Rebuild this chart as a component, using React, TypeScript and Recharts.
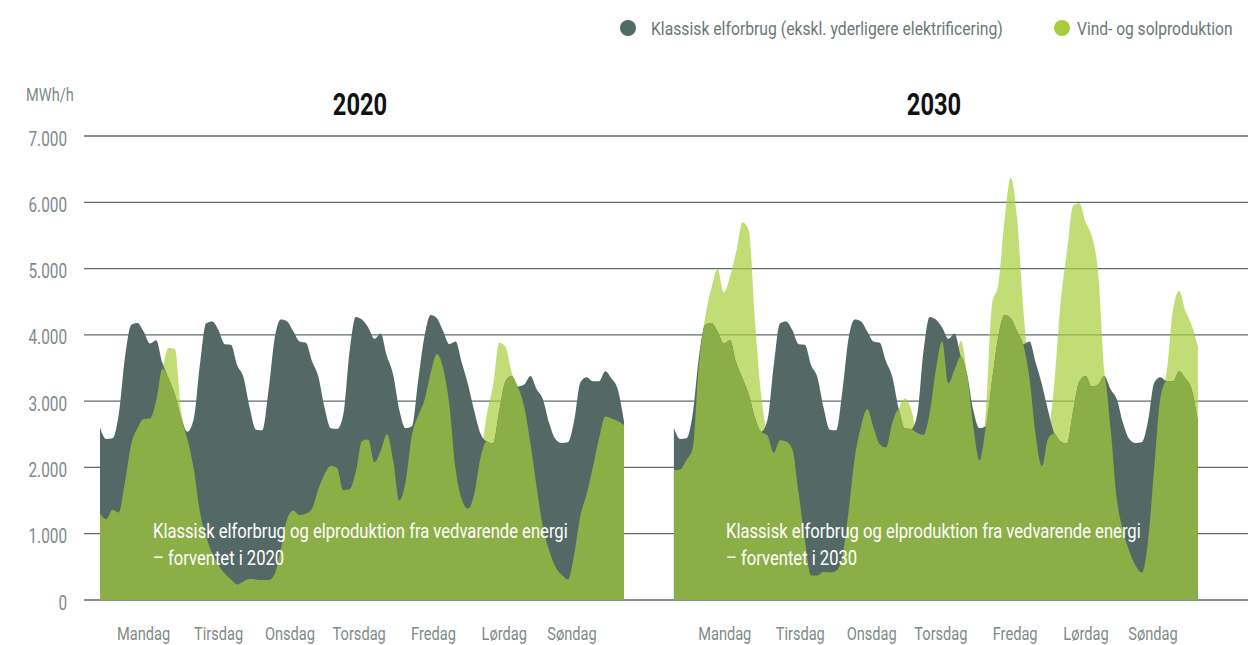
import { ComposedChart, Area, XAxis, YAxis, CartesianGrid } from "recharts";

// hourly week, sampled every 2 hours (85 points, Monday 00:00 to Sunday 24:00)
const consumption = [
  2600, 2430, 2440, 2800, 3660, 4150, 4180, 4050, 3870, 3920, 3580, 3340, 3100, 2750, 2540,
  2720, 3540, 4170, 4200, 4070, 3860, 3850, 3540, 3360, 2900, 2570, 2560, 3150, 3950, 4230,
  4200, 4050, 3900, 3880, 3600, 3370, 2900, 2590, 2580, 2800, 3750, 4270, 4230, 4110, 3940,
  4020, 3680, 3400, 2860, 2590, 2620, 3310, 3970, 4300, 4250, 4060, 3860, 3900, 3580, 3250,
  2850, 2510, 2390, 2360, 2850, 3300, 3380, 3220, 3250, 3380, 3180, 3030, 2670, 2430, 2370,
  2380, 2700, 3280, 3360, 3300, 3300, 3450, 3340, 3180, 2700,
];

const production2020 = [
  1300, 1220, 1360, 1320, 1780, 2350, 2590, 2730, 2740, 3000, 3490, 3800, 3790, 2860, 2430,
  2000, 1340, 960, 700, 520, 400, 310, 235, 280, 315, 310, 300, 300, 390, 770,
  1220, 1350, 1280, 1300, 1380, 1670, 1900, 2020, 1990, 1660, 1670, 1930, 2400, 2420, 2080,
  2250, 2500, 2110, 1500, 1790, 2490, 2780, 3010, 3420, 3710, 3500, 2950, 1980, 1520, 1380,
  1600, 2150, 2800, 3230, 3880, 3820, 3430, 3210, 2920, 2370, 1700, 1100, 750, 500, 380,
  310, 680, 1270, 1590, 2000, 2440, 2770, 2740, 2700, 2640,
];

const production2030 = [
  1960, 1970, 2110, 2290, 3550, 4260, 4700, 4990, 4640, 4880, 5260, 5700, 5580, 4200, 3080,
  2480, 2220, 2410, 2390, 2270, 1610, 905, 370, 370, 425, 415, 440, 660, 1340, 2150,
  2620, 2880, 2600, 2350, 2300, 2670, 2870, 3040, 2890, 2520, 2490, 2820, 3480, 3900, 3270,
  3480, 3910, 3420, 2620, 2110, 2850, 4470, 4760, 5730, 6370, 5780, 4400, 3350, 2480, 2020,
  2440, 3300, 4500, 5250, 5950, 5990, 5700, 5490, 4940, 3450, 2600, 1530, 1050, 740, 520,
  415, 880, 2000, 3060, 3450, 4375, 4660, 4360, 4150, 3820,
];

const days = ["Mandag", "Tirsdag", "Onsdag", "Torsdag", "Fredag", "Lørdag", "Søndag"];
// label positions (in hours) as they sit under each panel
const dayTicks2020 = [14.0, 38.0, 60.9, 83.1, 106.9, 129.6, 151.3];
const dayTicks2030 = [200.3, 224.5, 247.4, 269.6, 293.4, 316.1, 337.6];
const yTicks = [0, 1000, 2000, 3000, 4000, 5000, 6000, 7000];

const START_2030 = 184; // hour offset of the 2030 panel on the shared axis

const DARK = "#546966";
const LIGHT = "#a8cd3c";
const MID = "#8cae47";
const GREY = "#7d8b89";
const FONT = "Roboto, 'DejaVu Sans', sans-serif";

const rows = [
  ...consumption.map((c, i) => ({
    h: i * 2,
    cons2020: c,
    prod2020: production2020[i],
    both2020: Math.min(c, production2020[i]),
  })),
  ...consumption.map((c, i) => ({
    h: START_2030 + i * 2,
    cons2030: c,
    prod2030: production2030[i],
    both2030: Math.min(c, production2030[i]),
  })),
];

const fmtY = (v: number) => (v === 0 ? "0" : `${v / 1000}.000`);

// the source uses a condensed face, so Roboto is squeezed horizontally
function YTick(props: any) {
  const { x, y, payload } = props;
  return (
    <text
      transform={`translate(${x},${y + 9.5}) scale(0.73,1)`}
      textAnchor="end"
      fill={GREY}
      fontSize={21}
      fontFamily={FONT}
    >
      {fmtY(payload.value)}
    </text>
  );
}

function XTick(props: any) {
  const { x, index } = props;
  return (
    <text
      transform={`translate(${x},639.5) scale(0.79,1)`}
      textAnchor="middle"
      fill={GREY}
      fontSize={18.5}
      fontFamily={FONT}
    >
      {days[index % 7]}
    </text>
  );
}

function Cond({
  left,
  top,
  size,
  scale,
  color,
  lh,
  weight = 400,
  origin = "left",
  width,
  align = "left",
  children,
}: {
  left: number;
  top: number;
  size: number;
  scale: number;
  color: string;
  lh: number;
  weight?: number;
  origin?: string;
  width?: number;
  align?: "left" | "center";
  children: React.ReactNode;
}) {
  return (
    <div
      style={{
        position: "absolute",
        left,
        top,
        width,
        textAlign: align,
        fontSize: size,
        lineHeight: `${lh}px`,
        fontWeight: weight,
        color,
        whiteSpace: "nowrap",
        transform: `scaleX(${scale})`,
        transformOrigin: origin,
      }}
    >
      {children}
    </div>
  );
}

const dot = (left: number, color: string): React.CSSProperties => ({
  position: "absolute",
  left,
  top: 20,
  width: 16,
  height: 16,
  borderRadius: 8,
  background: color,
});

export default function App() {
  return (
    <div style={{ position: "absolute", left: 0, top: 0, width: 1256, height: 645, background: "#fff", fontFamily: FONT }}>
      <span style={dot(620, DARK)} />
      <Cond left={651} top={19} size={18.5} scale={0.85} color="#697876" lh={20}>
        Klassisk elforbrug (ekskl. yderligere elektrificering)
      </Cond>
      <span style={dot(1054, LIGHT)} />
      <Cond left={1077} top={19} size={18.5} scale={0.84} color="#697876" lh={20}>
        Vind- og solproduktion
      </Cond>

      <Cond left={26} top={86} size={18} scale={0.81} color={GREY} lh={18}>
        MWh/h
      </Cond>
      <Cond left={300} width={120} align="center" origin="center" top={88} size={32} scale={0.74} color="#111" lh={32} weight={700}>
        2020
      </Cond>
      <Cond left={874} width={120} align="center" origin="center" top={88} size={32} scale={0.74} color="#111" lh={32} weight={700}>
        2030
      </Cond>

      <ComposedChart
        width={1256}
        height={645}
        data={rows}
        margin={{ top: 136, right: 8, bottom: 0, left: 0 }}
      >
        <CartesianGrid horizontal vertical={false} stroke="#5d6e6c" strokeWidth={1.3} />
        <XAxis
          dataKey="h"
          type="number"
          domain={[-5.13, 368.06]}
          allowDataOverflow
          ticks={[...dayTicks2020, ...dayTicks2030]}
          interval={0}
          axisLine={false}
          tickLine={false}
          tickSize={0}
          tickMargin={0}
          height={45}
          tick={<XTick />}
        />
        <YAxis
          domain={[0, 7000]}
          ticks={yTicks}
          width={84}
          axisLine={false}
          tickLine={false}
          tickSize={0}
          tickMargin={17}
          tick={<YTick />}
        />
        <Area dataKey="prod2020" type="monotone" fill={LIGHT} fillOpacity={0.7} stroke="none" isAnimationActive={false} />
        <Area dataKey="cons2020" type="monotone" fill={DARK} fillOpacity={1} stroke="none" isAnimationActive={false} />
        <Area dataKey="both2020" type="monotone" fill={MID} fillOpacity={1} stroke="none" isAnimationActive={false} />
        <Area dataKey="prod2030" type="monotone" fill={LIGHT} fillOpacity={0.7} stroke="none" isAnimationActive={false} />
        <Area dataKey="cons2030" type="monotone" fill={DARK} fillOpacity={1} stroke="none" isAnimationActive={false} />
        <Area dataKey="both2030" type="monotone" fill={MID} fillOpacity={1} stroke="none" isAnimationActive={false} />
      </ComposedChart>

      <Cond left={153} top={518} size={20} scale={0.83} color="#fff" lh={27}>
        Klassisk elforbrug og elproduktion fra vedvarende energi
        <br />– forventet i 2020
      </Cond>
      <Cond left={726} top={518} size={20} scale={0.83} color="#fff" lh={27}>
        Klassisk elforbrug og elproduktion fra vedvarende energi
        <br />– forventet i 2030
      </Cond>
    </div>
  );
}
